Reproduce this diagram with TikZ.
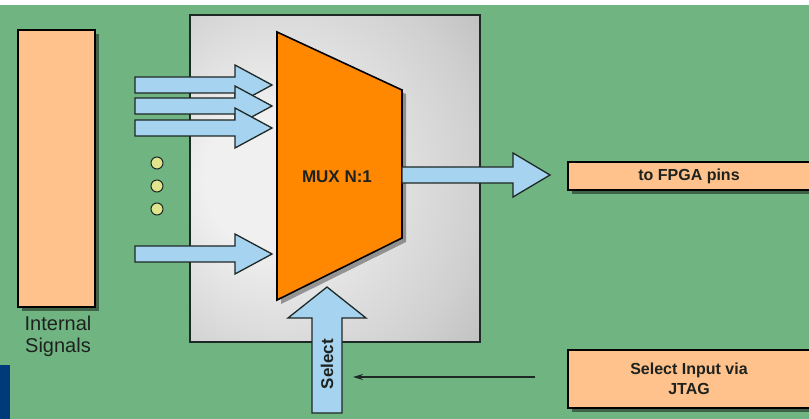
\documentclass[tikz,border=0pt]{standalone}
\usepackage{fontspec}
\setmainfont{Liberation Sans}
\usetikzlibrary{shadows,arrows.meta}
\definecolor{bggreen}{RGB}{112,180,130}
\definecolor{peach}{RGB}{255,194,140}
\definecolor{muxorange}{RGB}{255,136,0}
\definecolor{arrowblue}{RGB}{166,211,240}
\definecolor{edgedark}{RGB}{30,40,36}
\definecolor{navybar}{RGB}{0,58,122}
\definecolor{dotyellow}{RGB}{224,228,140}
\definecolor{txtdark}{RGB}{30,34,30}
\definecolor{chiplight}{RGB}{240,240,240}
\definecolor{chipmid}{RGB}{208,208,208}
\definecolor{chipdark}{RGB}{150,150,150}
\pgfdeclareradialshading{chipshade}{\pgfpoint{-15bp}{0bp}}{%
  color(0bp)=(chiplight); color(10bp)=(chiplight); color(32bp)=(chipmid); color(62bp)=(chipdark)}
\begin{document}
\begin{tikzpicture}[x=1pt,y=-1pt,
  peachbox/.style={draw=black, line width=1.6pt, fill=peach,
    drop shadow={shadow xshift=4pt, shadow yshift=-4pt, opacity=0.45, fill=black}},
  chipbox/.style={draw=edgedark, line width=1.6pt, shading=chipshade},
  muxshape/.style={draw=black, line width=1.6pt, fill=muxorange, line join=miter,
    drop shadow={shadow xshift=4pt, shadow yshift=-4pt, opacity=0.35, fill=black}},
  fat/.style={draw=edgedark, line width=1.3pt, fill=arrowblue, line join=miter},
  dotnode/.style={circle, draw=edgedark, line width=1pt, fill=dotyellow, minimum size=12pt, inner sep=0pt},
  boldtxt/.style={font=\bfseries\fontsize{16}{18}\selectfont, text=txtdark, align=center},
  thinarrow/.style={draw=edgedark, line width=1.3pt, -{Stealth[length=10pt,width=6pt]}},
  inarrow/.pic={\filldraw[fat] (0,-8) -- (100,-8) -- (100,-20) -- (137,0) -- (100,20) -- (100,8) -- (0,8) -- cycle;}
]
\useasboundingbox (0,0) rectangle (809,419);
\clip (0,0) rectangle (809,419);
\fill[bggreen] (0,0) rectangle (809,419);
\fill[white] (0,0) rectangle (809,5);
\fill[navybar] (0,365) rectangle (10,419);

% internal signals
\node[peachbox, minimum width=77pt, minimum height=277pt, inner sep=0pt] (sig) at (56.5,168.5) {};
\node[font=\fontsize{20}{22}\selectfont, text=txtdark, align=center] (siglabel) at (58,336) {Internal\\Signals};

% chip
\node[chipbox, minimum width=290pt, minimum height=327pt, inner sep=0pt] (chip) at (335,178.5) {};

% dots
\node[dotnode] (d1) at (157,163) {};
\node[dotnode] (d2) at (157,186) {};
\node[dotnode] (d3) at (157,209) {};

% input arrows
\pic at (135,85) {inarrow};
\pic at (135,106) {inarrow};
\pic at (135,128) {inarrow};
\pic at (135,254) {inarrow};

% select arrow
\coordinate (selbot) at (327,413);
\coordinate (seltip) at (327,287);
\filldraw[fat] (312,413) -- (312,318) -- (288,318) -- (seltip) -- (366,318) -- (342,318) -- (342,413) -- cycle;
\node[rotate=90, font=\bfseries\fontsize{17}{19}\selectfont, text=txtdark] (sellabel) at (327,364) {Select};

% mux
\coordinate (m1) at (277,32);
\coordinate (m2) at (402,90);
\coordinate (m3) at (402,238);
\coordinate (m4) at (277,300);
\filldraw[muxshape] (m1) -- (m2) -- (m3) -- (m4) -- cycle;
\node[boldtxt, font=\bfseries\fontsize{17}{19}\selectfont] (muxlabel) at (337,177) {MUX N:1};

% output arrow
\coordinate (outstart) at (402,175);
\coordinate (outtip) at (550,175);
\filldraw[fat] (402,167) -- (513,167) -- (513,153) -- (outtip) -- (513,197) -- (513,183) -- (402,183) -- cycle;

% right boxes
\node[peachbox, minimum width=242pt, minimum height=28pt, inner sep=0pt, boldtxt] (pins) at (689,176) {to FPGA pins};
\node[peachbox, minimum width=242pt, minimum height=58pt, inner sep=0pt, boldtxt, font=\bfseries\fontsize{16}{20}\selectfont] (jtag) at (689,379) {Select Input via\\JTAG};

% thin arrow
\coordinate (jtagline) at (535,377);
\coordinate (seltarget) at (353,377);
\draw[thinarrow] (jtagline) -- (seltarget);
\end{tikzpicture}
\end{document}
